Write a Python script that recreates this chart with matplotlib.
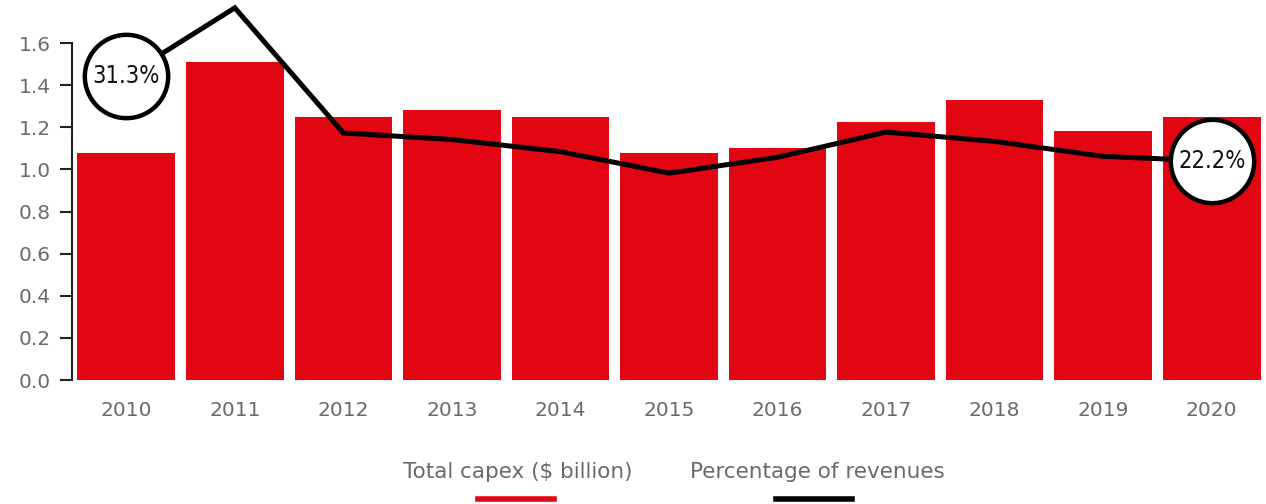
import matplotlib.pyplot as plt
from matplotlib.lines import Line2D

years = ['2010', '2011', '2012', '2013', '2014', '2015',
         '2016', '2017', '2018', '2019', '2020']
capex = [1.08, 1.51, 1.25, 1.28, 1.25, 1.08, 1.10, 1.225, 1.33, 1.18, 1.25]
pct_revenue = [31.3, 38.6, 25.2, 24.5, 23.2, 20.9, 22.6, 25.3, 24.3, 22.7, 22.2]
yticks = [0.0, 0.2, 0.4, 0.6, 0.8, 1.0, 1.2, 1.4, 1.6]

RED = '#e20613'
GREY = '#6a6a6a'
plt.rcParams['font.family'] = ['DejaVu Sans']

fig = plt.figure(figsize=(12.66, 5.04), dpi=100)
ax = fig.add_axes([72 / 1266, 1 - 380 / 504, 1 - 72 / 1266, 380 / 504])

x = range(len(years))
ax.bar(x, capex, width=0.9, color=RED, zorder=1)

ax.set_xlim(-0.5, 10.5)
ax.set_ylim(0, 380 / 210.6)
ax.set_yticks(yticks)
ax.set_yticklabels([f'{v:.1f}' for v in yticks])
ax.set_xticks(list(x))
ax.set_xticklabels(years)

for side in ['top', 'right', 'bottom']:
    ax.spines[side].set_visible(False)
ax.spines['left'].set_bounds(0, 1.6)
ax.spines['left'].set_linewidth(1.5)
ax.spines['left'].set_color('#222222')
ax.tick_params(axis='y', length=8.5, width=1.5, color='#222222', pad=7,
               labelsize=14.5, labelcolor=GREY)
ax.tick_params(axis='x', length=0, pad=15, labelsize=14.5, labelcolor=GREY)

# percentage line on a hidden secondary scale
ax2 = ax.twinx()
ax2.set_ylim(-1.25, 39.44)
ax2.axis('off')
ax2.plot(x, pct_revenue, color='black', lw=3.6, zorder=2, solid_joinstyle='miter')

for i in [0, len(years) - 1]:
    ax2.plot(i, pct_revenue[i], marker='o', ms=60, mfc='white', mec='black',
             mew=3.2, zorder=3)
    ax2.text(i, pct_revenue[i], f'{pct_revenue[i]:.1f}%', ha='center', va='center',
             fontsize=17, fontstretch='condensed', color='#111111', zorder=4)

# legend: labels with a short swatch underneath
fig.text(518 / 1266, 1 - 472 / 504, 'Total capex ($ billion)', ha='center',
         va='center', fontsize=15.5, color=GREY)
fig.text(817 / 1266, 1 - 472 / 504, 'Percentage of revenues', ha='center',
         va='center', fontsize=15.5, color=GREY)
fig.add_artist(Line2D([478 / 1266, 554 / 1266], [1 - 499 / 504] * 2,
                      color=RED, lw=4, transform=fig.transFigure))
fig.add_artist(Line2D([776 / 1266, 852 / 1266], [1 - 499 / 504] * 2,
                      color='black', lw=4, transform=fig.transFigure))

fig.savefig('out.png', dpi=100)
